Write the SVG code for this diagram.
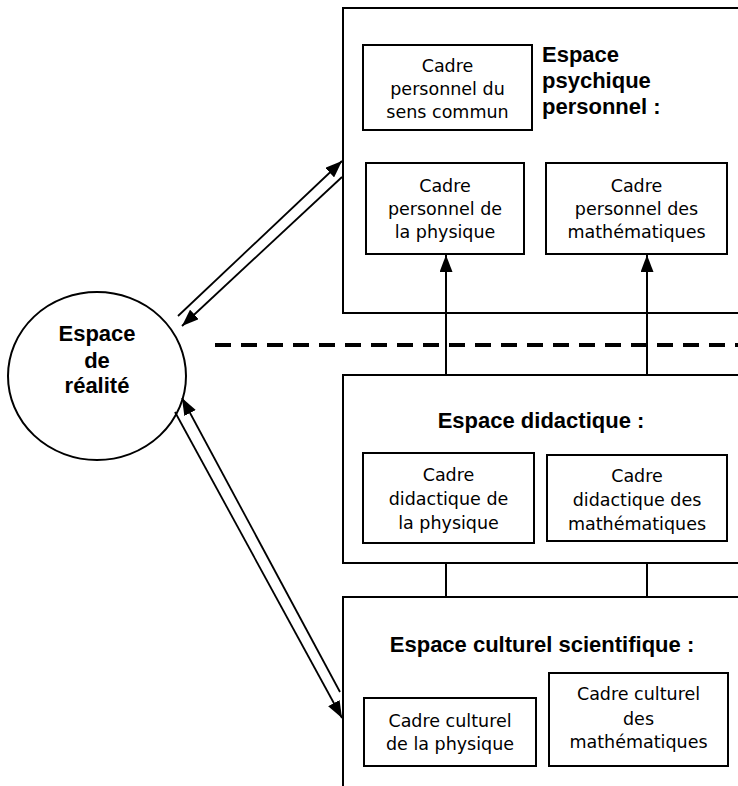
<svg xmlns="http://www.w3.org/2000/svg" width="738" height="786" viewBox="0 0 738 786">
<defs>
<style>
.box{fill:#fff;stroke:#000;stroke-width:2}
.t{font-family:"DejaVu Sans","Liberation Sans",sans-serif;font-size:17.5px;fill:#000;text-anchor:middle}
.h{font-family:"Liberation Sans",Arial,sans-serif;font-size:22px;font-weight:bold;fill:#000}
.c{stroke:#000;stroke-width:2;fill:none}
.d{stroke:#000;stroke-width:1.8;fill:none}
</style>
<marker id="ah" markerUnits="userSpaceOnUse" markerWidth="17" markerHeight="13" refX="17" refY="6.5" orient="auto">
<path d="M0,0 L17,6.5 L0,13 z" fill="#000"/>
</marker>
</defs>
<rect width="738" height="786" fill="#fff"/>

<g id="espace-realite">
<ellipse cx="97" cy="376" rx="89" ry="84" class="box"/>
<text class="h" x="97" y="341" text-anchor="middle">Espace</text>
<text class="h" x="97" y="368" text-anchor="middle">de</text>
<text class="h" x="97" y="393" text-anchor="middle">réalité</text>
</g>

<g id="espace-psychique">
<rect x="343" y="8" width="410" height="305" class="box"/>
<text class="h" x="542" y="62">Espace</text>
<text class="h" x="542" y="88">psychique</text>
<text class="h" x="542" y="114">personnel :</text>
</g>

<g id="cadre-sens-commun">
<rect x="363" y="45" width="169" height="85" class="box"/>
<text class="t" x="447.5" y="72">Cadre</text>
<text class="t" x="447.5" y="95">personnel du</text>
<text class="t" x="447.5" y="118">sens commun</text>
</g>

<g id="cadre-perso-physique">
<rect x="366" y="163" width="158" height="91" class="box"/>
<text class="t" x="445" y="192">Cadre</text>
<text class="t" x="445" y="215">personnel de</text>
<text class="t" x="445" y="238">la physique</text>
</g>

<g id="cadre-perso-maths">
<rect x="546" y="163" width="181" height="91" class="box"/>
<text class="t" x="636.5" y="192">Cadre</text>
<text class="t" x="636.5" y="215">personnel des</text>
<text class="t" x="636.5" y="238">mathématiques</text>
</g>

<g id="espace-didactique">
<rect x="343" y="375" width="410" height="188" class="box"/>
<text class="h" x="541" y="428" text-anchor="middle">Espace didactique :</text>
</g>

<g id="cadre-didac-physique">
<rect x="363" y="453" width="171" height="90" class="box"/>
<text class="t" x="448.5" y="481">Cadre</text>
<text class="t" x="448.5" y="505">didactique de</text>
<text class="t" x="448.5" y="529">la physique</text>
</g>

<g id="cadre-didac-maths">
<rect x="547" y="455" width="180" height="86" class="box"/>
<text class="t" x="637" y="482">Cadre</text>
<text class="t" x="637" y="506">didactique des</text>
<text class="t" x="637" y="530">mathématiques</text>
</g>

<g id="espace-culturel">
<rect x="343" y="597" width="410" height="200" class="box"/>
<text class="h" x="542" y="652" text-anchor="middle">Espace culturel scientifique :</text>
</g>

<g id="cadre-cult-physique">
<rect x="364" y="698" width="172" height="68" class="box"/>
<text class="t" x="450" y="727">Cadre culturel</text>
<text class="t" x="450" y="750">de la physique</text>
</g>

<g id="cadre-cult-maths">
<rect x="549" y="673" width="179" height="93" class="box"/>
<text class="t" x="638.5" y="700">Cadre culturel</text>
<text class="t" x="638.5" y="725">des</text>
<text class="t" x="638.5" y="748">mathématiques</text>
</g>

<g id="connectors">
<line x1="215" y1="345" x2="738" y2="345" stroke="#000" stroke-width="4" stroke-dasharray="16 10"/>
<line x1="446" y1="375" x2="446" y2="255" class="c" marker-end="url(#ah)"/>
<line x1="647" y1="375" x2="647" y2="255" class="c" marker-end="url(#ah)"/>
<line x1="446" y1="563" x2="446" y2="597" class="c"/>
<line x1="647" y1="563" x2="647" y2="597" class="c"/>
<line x1="178" y1="316" x2="342" y2="161" class="d" marker-end="url(#ah)"/>
<line x1="342" y1="177" x2="182" y2="326" class="d" marker-end="url(#ah)"/>
<line x1="175" y1="412" x2="342" y2="718" class="d" marker-end="url(#ah)"/>
<line x1="340" y1="692" x2="182" y2="398" class="d" marker-end="url(#ah)"/>
</g>
</svg>
